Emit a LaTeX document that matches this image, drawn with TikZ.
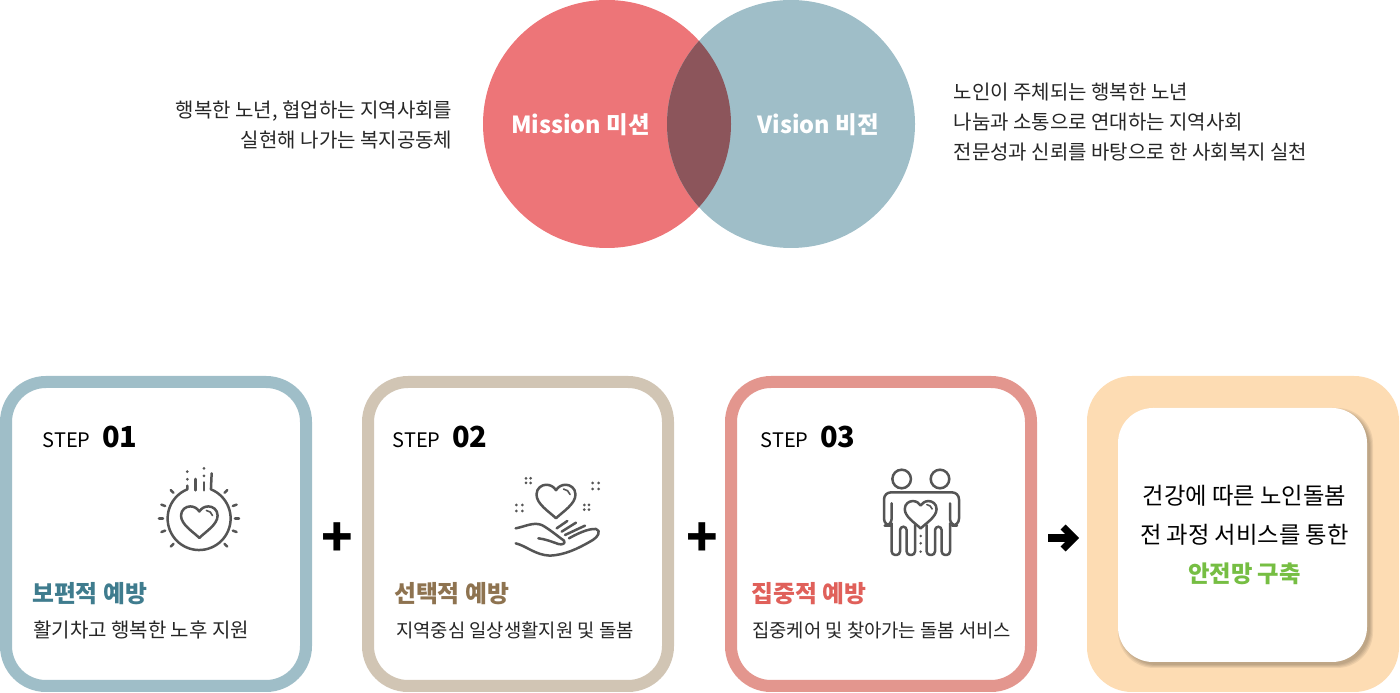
\documentclass[tikz,border=0pt]{standalone}
\usepackage{fontspec}
\setmainfont{Noto Sans CJK KR}
\usetikzlibrary{positioning,calc,arrows.meta}
\definecolor{missionred}{HTML}{ED7578}
\definecolor{visionblue}{HTML}{9FBEC8}
\definecolor{overlapred}{HTML}{8C555B}
\definecolor{stepsand}{HTML}{D1C5B4}
\definecolor{steprose}{HTML}{E3968E}
\definecolor{goalpeach}{HTML}{FDDCB3}
\definecolor{titleblue}{HTML}{3F7C8E}
\definecolor{titlebrown}{HTML}{8E7350}
\definecolor{titlered}{HTML}{E0605A}
\definecolor{goalgreen}{HTML}{76BE43}
\definecolor{icongray}{HTML}{555555}
\newcommand{\sz}[1]{\fontsize{#1}{#1}\selectfont}
\tikzset{
  venn/.style={circle, minimum size=248pt, inner sep=0pt, outer sep=0pt},
  venntitle/.style={text=white, font=\sz{23.5}\bfseries},
  body/.style={font=\sz{20}, inner sep=0pt, text=black!85},
  subline/.style={font=\sz{18.8}, inner sep=0pt, text=black!85, anchor=base west},
  stepcard/.style={rectangle, draw, fill=white, line width=12pt, rounded corners=40pt,
    minimum width=300pt, minimum height=304pt, outer sep=0pt},
  steplabel/.style={font=\sz{20}, inner sep=0pt, anchor=base west},
  stepnum/.style={font=\sz{29}\bfseries, inner sep=0pt, anchor=base west},
  steptitle/.style={font=\sz{23.8}\bfseries, inner sep=0pt, anchor=base west},
  plussign/.style={font=\sz{52}\bfseries, inner sep=0pt},
  icon/.style={draw=icongray, line width=2.5pt, line cap=round, line join=round},
  dotline/.style={fill=icongray, draw=none},
  heart/.pic={
    \draw[icon] (0,-16) .. controls (-6,-10) and (-18,-3) .. (-18,6)
      .. controls (-18,12) and (-13,15) .. (-9,15) .. controls (-5,15) and (-2,13) .. (0,10)
      .. controls (2,13) and (5,15) .. (9,15) .. controls (13,15) and (18,12) .. (18,6)
      .. controls (18,-3) and (6,-10) .. (0,-16);
    \draw[icon, line width=1.6pt] (7,11) .. controls (10,10.5) and (12,9) .. (13,6);
  }
}
\begin{document}
\begin{tikzpicture}[x=1pt, y=1pt]
\useasboundingbox (0,0) rectangle (1400,693);

% venn
\node[venn, fill=missionred] (mission) at (607,569) {};
\node[venn, fill=visionblue] (vision) at (791,569) {};
\begin{scope}
\clip (607,569) circle [radius=124pt];
\fill[overlapred] (791,569) circle [radius=124pt];
\end{scope}
\node[venntitle] (missiontext) at (580.5,568) {Mission 미션};
\node[venntitle] (visiontext) at (818,568) {Vision 비전};

\node[body, align=right, anchor=east] (missionbody) at (452.5,568) {행복한 노년, 협업하는 지역사회를\\[9pt]실현해 나가는 복지공동체};
\node[body, align=left, anchor=west] (visionbody) at (953.5,571) {노인이 주체되는 행복한 노년\\[10pt]나눔과 소통으로 연대하는 지역사회\\[10pt]전문성과 신뢰를 바탕으로 한 사회복지 실천};

% cards
\node[stepcard, draw=visionblue] (card1) at (156,159) {};
\node[stepcard, draw=stepsand] (card2) at (518,159) {};
\node[stepcard, draw=steprose] (card3) at (881,159) {};
\fill[goalpeach, rounded corners=45pt] (1087,1) rectangle (1399,317);
\node[rectangle, minimum width=312pt, minimum height=316pt, inner sep=0pt, outer sep=0pt] (card4) at (1243,159) {};
\foreach \grow in {0,1,2,3}
  \fill[black, opacity=.065, rounded corners=36pt] (1118+3-\grow,31-3-\grow) rectangle (1367+3+\grow,285-3+\grow);
\node[rectangle, fill=white, rounded corners=35pt, minimum width=249pt, minimum height=254pt] (goal) at (1242.5,158) {};

% step 01
\node[steplabel] (label1) at (42.5,245) {STEP};
\node[stepnum, right=11pt of label1.base east, anchor=base west] (num1) {01};
\node[steptitle, text=titleblue] (title1) at (32,90) {보편적 예방};
\node[body, anchor=base west] (sub1) at (33,55) {활기차고 행복한 노후 지원};

% step 02
\node[steplabel] (label2) at (392.5,245) {STEP};
\node[stepnum, right=11pt of label2.base east, anchor=base west] (num2) {02};
\node[steptitle, text=titlebrown] (title2) at (394,90) {선택적 예방};
\node[subline] (sub2) at (396,55.5) {지역중심 일상생활지원 및 돌봄};

% step 03
\node[steplabel] (label3) at (760.5,245) {STEP};
\node[stepnum, right=11pt of label3.base east, anchor=base west] (num3) {03};
\node[steptitle, text=titlered] (title3) at (751,90) {집중적 예방};
\node[subline] (sub3) at (752,55.5) {집중케어 및 찾아가는 돌봄 서비스};

% goal text
\node[body, font=\sz{23.3}, text=black, align=center] (goaltext) at (1244.5,158)
  {건강에 따른 노인돌봄\\[16pt]전 과정 서비스를 통한\\[16pt]{\color{goalgreen}\bfseries 안전망 구축}};

% signs between cards
\node[plussign] (plus1) at ($(card1)!.5!(card2)+(0,-6)$) {+};
\node[plussign] (plus2) at ($(card2)!.5!(card3)+(3,-6)$) {+};
\draw[line width=7.5pt, -{Straight Barb[length=11pt,width=22pt,line width=7pt]}, shorten <=17pt, shorten >=8pt]
  ([yshift=-4pt]card3.east) -- ([yshift=-4pt]card4.west);

% icon 01
\begin{scope}[shift={(130,273)}, x=.3333pt, y=-.3333pt]
\draw[icon] (172,197) -- (172,208) arc [start angle=112, end angle=428, radius=31.5pt] -- (245,160);
\draw[icon] (197,177) -- (197,211);
\draw[icon] (222,187) -- (222,211);
\foreach \px/\py in {172/155, 172/178, 222/145, 222/168}
  \fill[dotline] (\px,\py) circle [radius=1.5pt];
\foreach \ang in {0,20,45,135,160,180,200,225,315,340}
  \draw[icon, shift={(207,295)}] (\ang:36pt) -- (\ang:40pt);
\pic[xscale=3.05, yscale=-3.05] at (208,305) {heart};
\end{scope}

% icon 02
\begin{scope}[shift={(490,233)}, x=.3333pt, y=-.3333pt]
\pic[xscale=3.25, yscale=-3.25] at (198,123) {heart};
\foreach \px/\py in {115/62, 290/142}
  \foreach \ox/\oy in {-7/-7, 7/-7, -7/7, 7/7}
    \fill[dotline] (\px+\ox,\py+\oy) circle [radius=1.5pt];
\foreach \px/\py in {317/78, 88/144}
  \foreach \ox/\oy in {-9/-9, 9/-9, -9/9, 9/9}
    \fill[dotline] (\px+\ox,\py+\oy) circle [radius=1.5pt];
\draw[icon] (77,205) .. controls (105,200) and (130,185) .. (155,195)
  .. controls (175,205) and (205,230) .. (222,242)
  .. controls (228,252) and (215,255) .. (205,252) .. controls (185,245) and (165,237) .. (145,235);
\draw[icon] (77,250) .. controls (110,258) and (135,285) .. (180,287)
  .. controls (225,285) and (265,265) .. (300,245) .. controls (325,232) and (335,212) .. (318,207)
  .. controls (295,205) and (260,222) .. (237,235);
\draw[icon] (200,205) -- (232,183);
\draw[icon] (215,215) -- (258,188);
\draw[icon] (225,225) -- (285,197);
\end{scope}

% icon 03
\begin{scope}[shift={(860,233)}, x=.3333pt, y=-.3333pt]
\draw[icon] (125,57) circle [radius=9.3pt];
\draw[icon] (240,57) circle [radius=9.3pt];
\draw[icon, rounded corners=7pt] (95,130) -- (95,197) -- (72,197) -- (72,97) -- (297,97) -- (297,197) -- (270,197) -- (270,130);
\draw[icon, rounded corners=3.5pt] (95,190) -- (95,285) -- (120,285) -- (120,200) -- (140,200) -- (140,285) -- (165,285) -- (165,195);
\draw[icon, rounded corners=3.5pt] (200,195) -- (200,285) -- (225,285) -- (225,200) -- (245,200) -- (245,285) -- (270,285) -- (270,190);
\foreach \py in {228,250,275}
  \fill[dotline] (182,\py) circle [radius=1.4pt];
\pic[xscale=2.65, yscale=-2.65] at (182,163) {heart};
\end{scope}

\end{tikzpicture}
\end{document}
